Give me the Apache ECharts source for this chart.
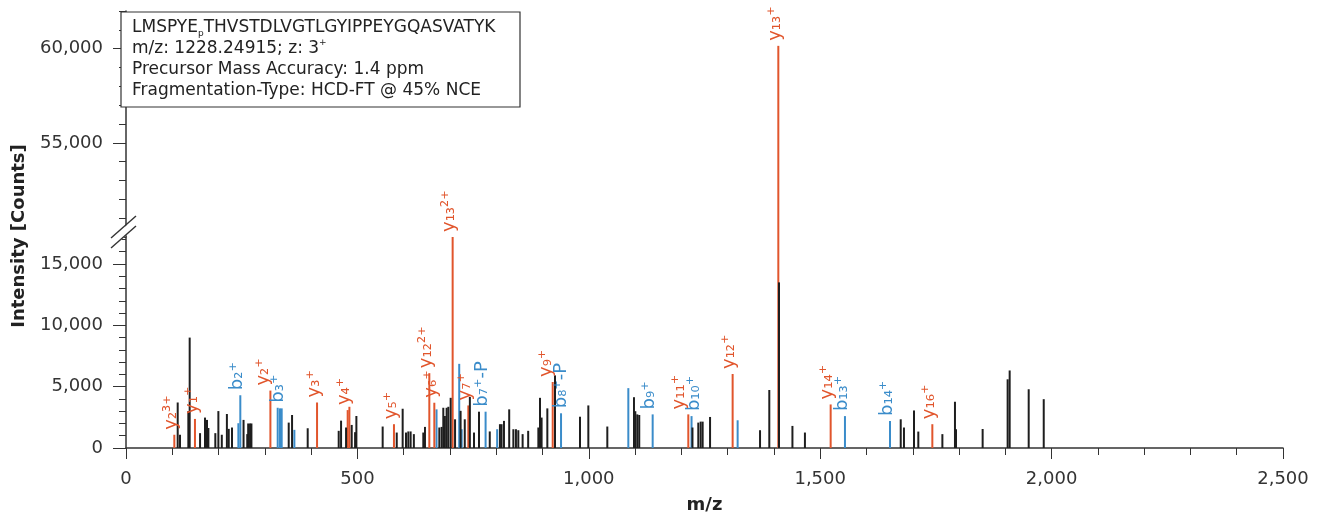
<!DOCTYPE html>
<html>
<head>
<meta charset="utf-8">
<title>Spectrum</title>
<script src="https://cdn.jsdelivr.net/npm/echarts@6/dist/echarts.min.js"></script>
<style>
  html, body { margin: 0; padding: 0; background: #fff; }
  #chart { width: 1325px; height: 515px; }
</style>
</head>
<body>
<div id="chart"></div>
<script>
// y ions (red), '' = no label
const yMz = [104.4, 149, 312, 412.8, 479, 482.7, 579, 655.4, 666.2, 705.8, 739.7, 922, 1215, 1310.8, 1409.5, 1522.6, 1742.3];
const yInt = [1080, 2370, 4680, 3710, 3090, 3360, 1940, 6100, 3690, 17200, 3470, 5380, 2740, 6030, 60150, 3550, 1940];
const yLab = ['y₂³⁺', 'y₁⁺', 'y₂⁺', 'y₃⁺', 'y₄⁺', '', 'y₅⁺', 'y₁₂²⁺', 'y₆⁺', 'y₁₃²⁺', 'y₇⁺', 'y₉⁺', 'y₁₁⁺', 'y₁₂⁺', 'y₁₃⁺', 'y₁₄⁺', 'y₁₆⁺'];

// b ions (blue)
const bMz = [242.8, 247, 327.8, 332.8, 336.4, 363.8, 671, 720, 725.3, 777, 802, 940, 1085.4, 1138, 1222, 1321.6, 1553.5, 1650.8];
const bInt = [2020, 4300, 3280, 3230, 3230, 1480, 3150, 6860, 1530, 2960, 1530, 2830, 4880, 2740, 2600, 2260, 2600, 2200];
const bLab = ['', 'b₂⁺', 'b₃⁺', '', '', '', '', '', '', 'b₇⁺-P', '', 'b₈⁺-P', '', 'b₉⁺', 'b₁₀⁺', '', 'b₁₃⁺', 'b₁₄⁺'];

// unassigned peaks (black)
const otherMz = [111.7, 116.7, 134.7, 137.6, 160, 170.7, 175, 178, 193, 199.6, 207, 218, 222, 229, 254, 262, 264, 268, 271, 351.6, 358.8, 392.6, 459.6, 464.7, 475.5, 487.7, 495, 497.8, 554.6, 585, 597.8, 605, 610, 615, 622, 642.4, 646, 677, 682, 685.6, 689, 692.8, 696.5, 701.5, 711, 723, 732, 743, 752, 762.7, 786, 808, 811.5, 816.7, 828, 837, 842.6, 847.7, 857, 869, 891, 894.5, 898, 910.4, 927, 981, 999, 1040, 1097.6, 1100.5, 1104.8, 1109, 1224, 1236.6, 1241.7, 1246, 1262, 1370, 1390, 1411, 1440, 1467, 1674, 1681, 1702.7, 1712, 1764, 1791.2, 1793.4, 1851, 1905, 1909.4, 1950.5, 1983];
const otherInt = [3710, 1080, 3010, 9000, 1210, 2480, 2290, 1630, 1210, 3010, 1080, 2770, 1560, 1670, 2290, 1130, 2000, 2000, 2000, 2070, 2690, 1610, 1400, 2230, 1670, 1880, 1290, 2610, 1750, 1260, 3200, 1260, 1350, 1350, 1130, 1260, 1720, 1670, 1720, 3280, 2610, 3280, 3360, 4090, 2340, 3030, 2340, 4170, 1260, 2960, 1350, 1940, 1940, 2210, 3150, 1530, 1530, 1450, 1130, 1400, 1670, 4090, 2480, 3230, 5920, 2550, 3470, 1750, 4140, 3000, 2740, 2690, 1670, 2070, 2150, 2150, 2530, 1450, 4730, 13500, 1800, 1260, 2340, 1670, 3060, 1340, 1130, 3770, 1530, 1550, 5600, 6320, 4790, 3980];

const xTicks = [0, 500, 1000, 1500, 2000, 2500];
const yTicksLow = [0, 5000, 10000, 15000];
const yTicksHigh = [55000, 60000];

const RED = '#e1552c';
const BLUE = '#3a8cca';
const BLACK = '#1e1e1e';
const LOW_MAX = 17200, HIGH_MIN = 50000, HIGH_MAX = 62000;
const FONT = 'DejaVu Sans';
const LABEL_FONT = 18, LABEL_DIST = 5;

// all peaks in draw order: coloured first, black on top
function allPeaks() {
  const list = [];
  bMz.forEach((mz, i) => list.push({ mz: mz, val: bInt[i], color: BLUE, lab: bLab[i] }));
  yMz.forEach((mz, i) => list.push({ mz: mz, val: yInt[i], color: RED, lab: yLab[i] }));
  otherMz.forEach((mz, i) => list.push({ mz: mz, val: otherInt[i], color: BLACK, lab: '' }));
  return list;
}

// label only shown in the panel where the peak top lands
// (label is rotated, so its offset is [along text, sideways])
function makeData(inUpper, shift) {
  return allPeaks().map(p => {
    const item = { value: [p.mz, p.val], itemStyle: { color: p.color } };
    const here = inUpper ? p.val > HIGH_MIN : p.val <= LOW_MAX;
    if (p.lab && here) {
      const dx = shift && shift[p.mz] !== undefined ? shift[p.mz] : -3;
      item.label = {
        show: true, position: 'top', rotate: 90, align: 'left', verticalAlign: 'middle',
        distance: LABEL_DIST, offset: [0, dx], color: p.color, fontSize: LABEL_FONT, fontFamily: FONT,
        formatter: p.lab
      };
    }
    return item;
  });
}

const fmt = v => v.toLocaleString('en-US');
const axisCol = '#333';

const option = {
  animation: false,
  textStyle: { fontFamily: FONT },
  grid: [
    { left: 126, right: 42, top: 11, height: 226 },
    { left: 126, right: 42, top: 237, bottom: 65 }
  ],
  xAxis: [
    { gridIndex: 0, type: 'value', min: 0, max: 2500, show: false },
    {
      gridIndex: 1, type: 'value', min: 0, max: 2500, interval: 500,
      axisLine: { lineStyle: { color: axisCol, width: 1.5 } },
      axisTick: { length: 11, lineStyle: { color: axisCol } },
      minorTick: { show: true, splitNumber: 5, length: 7, lineStyle: { color: axisCol } },
      splitLine: { show: false },
      axisLabel: { fontSize: 18, color: '#333', margin: 22, formatter: fmt, customValues: xTicks },
      name: 'm/z', nameLocation: 'middle', nameGap: 48,
      nameTextStyle: { fontSize: 18, fontWeight: 'bold', color: '#222' }
    }
  ],
  yAxis: [
    {
      gridIndex: 0, type: 'value', position: 'left', min: HIGH_MIN, max: HIGH_MAX, interval: 1000,
      axisLine: { show: true, lineStyle: { color: axisCol, width: 1.5 } },
      axisTick: { length: 7, lineStyle: { color: axisCol } },
      axisLabel: { show: false }, splitLine: { show: false }
    },
    {
      gridIndex: 0, type: 'value', position: 'left', min: HIGH_MIN, max: HIGH_MAX,
      axisLine: { show: false },
      axisTick: { length: 13, customValues: yTicksHigh, lineStyle: { color: axisCol } },
      axisLabel: { fontSize: 18, color: '#333', margin: 23, formatter: fmt, customValues: yTicksHigh },
      splitLine: { show: false }
    },
    {
      gridIndex: 1, type: 'value', position: 'left', min: 0, max: LOW_MAX, interval: 1000,
      axisLine: { show: true, lineStyle: { color: axisCol, width: 1.5 } },
      axisTick: { length: 7, lineStyle: { color: axisCol } },
      axisLabel: { show: false }, splitLine: { show: false }
    },
    {
      gridIndex: 1, type: 'value', position: 'left', min: 0, max: LOW_MAX,
      axisLine: { show: false },
      axisTick: { length: 13, customValues: yTicksLow, lineStyle: { color: axisCol } },
      axisLabel: { fontSize: 18, color: '#333', margin: 23, formatter: fmt, customValues: yTicksLow },
      splitLine: { show: false }
    }
  ],
  series: [
    {
      type: 'bar', xAxisIndex: 0, yAxisIndex: 0, barWidth: 2, clip: true,
      data: makeData(true)
    },
    {
      type: 'bar', xAxisIndex: 1, yAxisIndex: 2, barWidth: 2, clip: true,
      data: makeData(false)
    }
  ],
  graphic: [
    // info box
    {
      type: 'rect', z: 100, shape: { x: 121, y: 12, width: 399, height: 95 },
      style: { fill: '#fff', stroke: '#333', lineWidth: 1.2 }
    },
    {
      type: 'text', z: 101, left: 132, top: 19,
      style: {
        text: '{a|LMSPYE}{s|p}{a|THVSTDLVGTLGYIPPEYGQASVATYK}\n{a|m/z: 1228.24915; z: 3}{p|+}\n{a|Precursor Mass Accuracy: 1.4 ppm}\n{a|Fragmentation-Type: HCD-FT @ 45% NCE}',
        fill: '#222',
        rich: {
          a: { fontSize: 17, lineHeight: 21, fontFamily: FONT, color: '#222' },
          s: { fontSize: 9, lineHeight: 12, verticalAlign: 'bottom', fontFamily: FONT, color: '#222' },
          p: { fontSize: 9, lineHeight: 12, verticalAlign: 'top', fontFamily: FONT, color: '#222' }
        }
      }
    },
    // axis break
    {
      type: 'polygon', z: 100,
      shape: { points: [[112, 238], [136, 217], [136, 227], [112, 248]] },
      style: { fill: '#fff' }
    },
    {
      type: 'line', z: 101, shape: { x1: 111, y1: 238, x2: 136, y2: 216 },
      style: { stroke: '#333', lineWidth: 1.4 }
    },
    {
      type: 'line', z: 101, shape: { x1: 111, y1: 248, x2: 136, y2: 226 },
      style: { stroke: '#333', lineWidth: 1.4 }
    },
    // y axis title
    {
      type: 'text', z: 100, x: 19, y: 236, rotation: Math.PI / 2,
      style: {
        text: 'Intensity [Counts]', font: 'bold 18px "DejaVu Sans"', fill: '#222',
        align: 'center', verticalAlign: 'middle'
      }
    }
  ]
};

const chart = echarts.init(document.getElementById('chart'));
chart.setOption(option);

// push crowded ion labels apart sideways, as the original plot does
function spreadLabels() {
  const ctx = document.createElement('canvas').getContext('2d');
  ctx.font = LABEL_FONT + 'px "DejaVu Sans"';
  const labs = allPeaks().filter(p => p.lab && p.val <= LOW_MAX).map(p => {
    const x = chart.convertToPixel({ xAxisIndex: 1 }, p.mz);
    const top = chart.convertToPixel({ yAxisIndex: 2 }, p.val);
    const len = ctx.measureText(p.lab).width;
    return { mz: p.mz, x0: x, pos: x - 3, hi: top - LABEL_DIST, lo: top - LABEL_DIST - len };
  });
  const gap = 15;
  for (let it = 0; it < 40; it++) {
    for (let i = 0; i < labs.length; i++) {
      for (let j = i + 1; j < labs.length; j++) {
        const a = labs[i], b = labs[j];
        if (a.lo >= b.hi || b.lo >= a.hi) continue;
        const d = b.pos - a.pos;
        if (Math.abs(d) >= gap) continue;
        const push = (gap - Math.abs(d)) / 2 + 0.1;
        const sgn = d === 0 ? (b.x0 >= a.x0 ? 1 : -1) : Math.sign(d);
        a.pos -= sgn * push;
        b.pos += sgn * push;
      }
    }
  }
  const shift = {};
  labs.forEach(l => { shift[l.mz] = l.pos - l.x0; });
  chart.setOption({ series: [{}, { data: makeData(false, shift) }] });
}
spreadLabels();
</script>
</body>
</html>
